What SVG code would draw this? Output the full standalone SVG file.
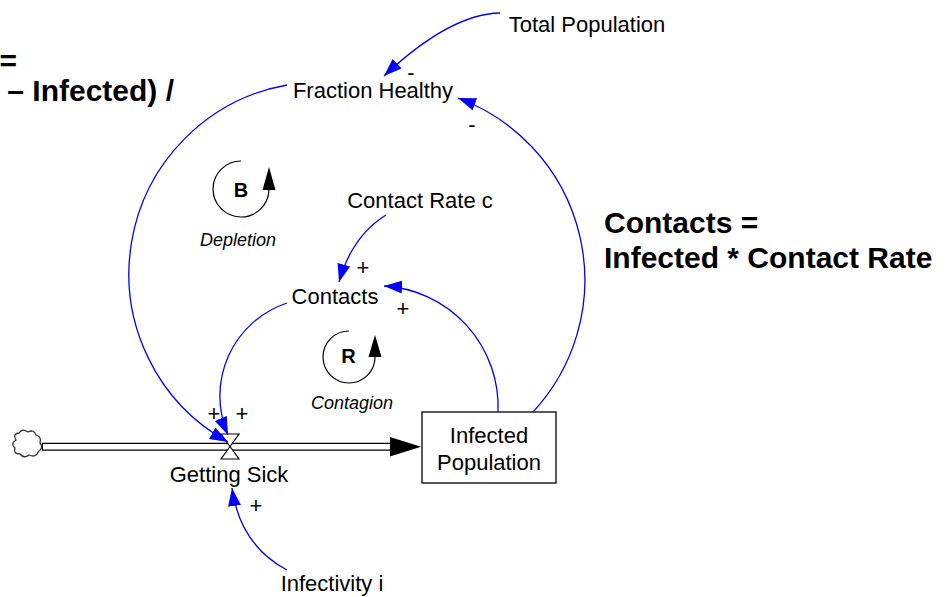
<svg xmlns="http://www.w3.org/2000/svg" width="945" height="597" viewBox="0 0 945 597">
<defs>
<style>
.lbl{font-family:"Liberation Sans",Arial,sans-serif;font-size:22px;fill:#000;text-anchor:middle}
.big{font-family:"Liberation Sans",Arial,sans-serif;font-size:30px;font-weight:bold;fill:#000}
.loopname{font-family:"Liberation Sans",Arial,sans-serif;font-size:18px;font-style:italic;fill:#000;text-anchor:middle}
.loopid{font-family:"Liberation Sans",Arial,sans-serif;font-size:20px;font-weight:bold;fill:#000;text-anchor:middle}
.pol{font-family:"Liberation Sans",Arial,sans-serif;font-size:22px;fill:#000;text-anchor:middle}
.link{fill:none;stroke:#0000FF;stroke-width:1.3;marker-end:url(#ah)}
.loop{fill:none;stroke:#000;stroke-width:1.2}
</style>
<marker id="ah" markerUnits="userSpaceOnUse" markerWidth="19" markerHeight="14" refX="18" refY="6.5" orient="auto">
<path d="M0,0 L18,6.5 L0,13 Z" fill="#0000FF"/>
</marker>
</defs>
<rect width="945" height="597" fill="#fff"/>

<g id="equations">
<text class="big" x="17" y="71" text-anchor="end">=</text>
<text class="big" x="174" y="101" text-anchor="end">– Infected) /</text>
<text class="big" x="604" y="233">Contacts =</text>
<text class="big" x="604" y="268">Infected * Contact Rate</text>
</g>

<g id="flow">
<path d="M42,446.7 L392,446.7" stroke="#000" stroke-width="8" fill="none"/>
<path d="M43,446.7 L391,446.7" stroke="#fff" stroke-width="5.4" fill="none"/>
<polygon points="390,437 421,446.7 390,456.4" fill="#000"/>
</g>

<g id="cloud">
<path d="M16,440 Q12,434 19,433 Q22,428 28,432 Q34,429 36,435 Q42,437 40,443 Q44,448 38,452 Q36,458 29,455 Q24,459 20,454 Q13,454 15,448 Q10,444 16,440 Z" fill="#fff" stroke="#333" stroke-width="1.3"/>
</g>

<g id="getting-sick">
<path d="M221,434 L239,434 L230,446.5 Z M230,446.5 L221,459 L239,459 Z" fill="#fff" stroke="#000" stroke-width="1.2"/>
<text class="lbl" x="229" y="482">Getting Sick</text>
</g>

<g id="infected-population">
<rect x="422" y="412" width="134" height="71" fill="#fff" stroke="#000" stroke-width="1.3"/>
<text class="lbl" x="489" y="443">Infected</text>
<text class="lbl" x="489" y="470">Population</text>
</g>

<g id="total-population"><text class="lbl" x="587" y="32">Total Population</text></g>
<g id="fraction-healthy"><text class="lbl" x="373" y="98">Fraction Healthy</text></g>
<g id="contact-rate"><text class="lbl" x="420" y="208">Contact Rate c</text></g>
<g id="contacts"><text class="lbl" x="335" y="304">Contacts</text></g>
<g id="infectivity"><text class="lbl" x="332" y="591">Infectivity i</text></g>

<g id="loop-b">
<path class="loop" d="M241,161 A28,28 0 1 0 269,190"/>
<polygon points="269,167 262.5,190 275.5,190" fill="#000"/>
<text class="loopid" x="241" y="197">B</text>
<text class="loopname" x="238" y="246">Depletion</text>
</g>

<g id="loop-r">
<path class="loop" d="M349,331 A26,26 0 1 0 375,357"/>
<polygon points="375,335 368.5,357 381.5,357" fill="#000"/>
<text class="loopid" x="348.5" y="363">R</text>
<text class="loopname" x="352" y="409">Contagion</text>
</g>

<g id="connectors">
<path class="link" d="M500,13 Q450,14 384,76"/>
<path class="link" d="M533,412 A194,194 0 0 0 458,98"/>
<path class="link" d="M287,85 A192,192 0 0 0 228,442"/>
<path class="link" d="M287,303 A98,98 0 0 0 228,435"/>
<path class="link" d="M386,215 Q352,236 339,282"/>
<path class="link" d="M498,412 A121,121 0 0 0 384,286"/>
<path class="link" d="M287,570 Q240,545 232,488"/>
</g>

<g id="polarities">
<text class="pol" x="411" y="80">-</text>
<text class="pol" x="472" y="132">-</text>
<text class="pol" x="363" y="275">+</text>
<text class="pol" x="403" y="316">+</text>
<text class="pol" x="214" y="421">+</text>
<text class="pol" x="242" y="421">+</text>
<text class="pol" x="256" y="513">+</text>
</g>
</svg>
